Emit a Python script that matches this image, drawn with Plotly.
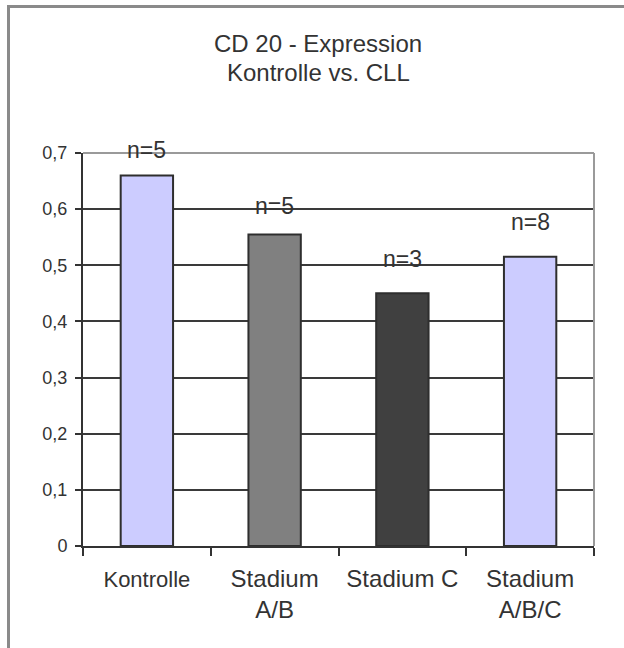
import plotly.graph_objects as go

# Mean CD20 expression per group
categories = ["Kontrolle", "Stadium<br>A/B", "Stadium C", "Stadium<br>A/B/C"]
values = [0.66, 0.555, 0.45, 0.515]
sample_sizes = ["n=5", "n=5", "n=3", "n=8"]
bar_colors = ["#CCCCFF", "#808080", "#404040", "#CCCCFF"]
x_ticktext = ['<span style="font-size:22px">Kontrolle</span>', "Stadium<br>A/B", "Stadium C", "Stadium<br>A/B/C"]
y_tickvals = [0, 0.1, 0.2, 0.3, 0.4, 0.5, 0.6, 0.7]
y_ticktext = ["0", "0,1", "0,2", "0,3", "0,4", "0,5", "0,6", "0,7"]

W, H = 624, 648
ML, MR, MT, MB = 83, 30, 153, 102
PW, PH = W - ML - MR, H - MT - MB

def px_x(p):
    return (p - ML) / PW

def px_y(p):
    return (H - MB - p) / PH

FONT = "Liberation Sans, Arial, sans-serif"
TXT = "#333333"

fig = go.Figure(go.Bar(
    x=categories,
    y=values,
    width=0.41,
    marker=dict(color=bar_colors, line=dict(color="#2e2e2e", width=2)),
    hoverinfo="skip",
))

# sample-size labels above the bars (pixel lift per bar)
label_lift = [25, 28, 34, 35]
for cat, val, lab, lift in zip(categories, values, sample_sizes, label_lift):
    fig.add_annotation(x=cat, y=val, text=lab, showarrow=False, yshift=lift,
                       yanchor="middle", font=dict(family=FONT, size=23, color=TXT))

# two-line title, centred over the chart
for line, ypx in (("CD 20 - Expression", 43), ("Kontrolle vs. CLL", 72)):
    fig.add_annotation(xref="paper", yref="paper", x=px_x(318), y=px_y(ypx),
                       text=line, showarrow=False, xanchor="center", yanchor="middle",
                       font=dict(family=FONT, size=24, color=TXT))

# frame around the chart (left and top edges)
frame = dict(color="#8a8a8a", width=3)
fig.add_shape(type="line", xref="paper", yref="paper", x0=px_x(8.5), x1=px_x(8.5),
              y0=px_y(6.5), y1=px_y(H + 2), line=frame)
fig.add_shape(type="line", xref="paper", yref="paper", x0=px_x(7), x1=px_x(W + 2),
              y0=px_y(6.5), y1=px_y(6.5), line=frame)

# plot-area border: top and right in light gray
border = dict(color="#9a9a9a", width=2)
fig.add_shape(type="line", xref="paper", yref="paper", x0=0, x1=1, y0=1, y1=1, line=border, layer="above")
fig.add_shape(type="line", xref="paper", yref="paper", x0=1, x1=1, y0=0, y1=1, line=border, layer="above")

fig.update_layout(
    width=W, height=H,
    margin=dict(l=ML, r=MR, t=MT, b=MB),
    paper_bgcolor="white", plot_bgcolor="white",
    showlegend=False,
    font=dict(family=FONT, size=22, color=TXT),
)
fig.update_xaxes(
    type="category", tickvals=categories, ticktext=x_ticktext,
    showline=True, linecolor="#333333", linewidth=2,
    ticks="outside", tickson="boundaries", ticklen=8, tickwidth=1.5, tickcolor="#333333",
    ticklabelstandoff=10, showgrid=False,
    tickfont=dict(family=FONT, size=24, color=TXT),
)
fig.update_yaxes(
    range=[0, 0.7], tickvals=y_tickvals, ticktext=y_ticktext,
    showline=True, linecolor="#333333", linewidth=2,
    ticks="outside", ticklen=6, tickwidth=2, tickcolor="#333333",
    ticklabelstandoff=4, showgrid=True, gridcolor="#3a3a3a", gridwidth=2, zeroline=False,
    tickfont=dict(family=FONT, size=18, color=TXT),
)

fig.write_html("out.html")
